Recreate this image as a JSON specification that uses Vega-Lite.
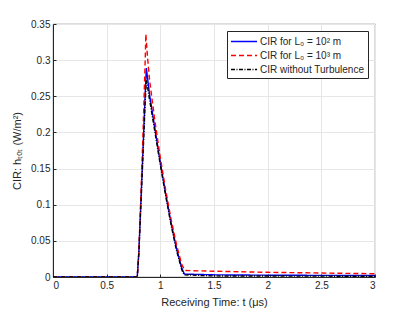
{
  "$schema": "https://vega.github.io/schema/vega-lite/v6.json",
  "width": 322,
  "height": 253,
  "autosize": {"type": "none"},
  "padding": {"left": 53, "top": 24, "right": 40, "bottom": 35},
  "background": "white",
  "config": {
    "font": "Liberation Sans",
    "view": {"stroke": "#262626", "strokeWidth": 0.8}
  },
  "data": {
    "values": [
      {"s": "CIR for L₀ = 10² m", "t": 0, "v": 0},
      {"s": "CIR for L₀ = 10² m", "t": 0.785, "v": 0},
      {"s": "CIR for L₀ = 10² m", "t": 0.8, "v": 0.035},
      {"s": "CIR for L₀ = 10² m", "t": 0.82, "v": 0.108},
      {"s": "CIR for L₀ = 10² m", "t": 0.84, "v": 0.182},
      {"s": "CIR for L₀ = 10² m", "t": 0.86, "v": 0.258},
      {"s": "CIR for L₀ = 10² m", "t": 0.87, "v": 0.289},
      {"s": "CIR for L₀ = 10² m", "t": 0.88, "v": 0.276},
      {"s": "CIR for L₀ = 10² m", "t": 0.9, "v": 0.252},
      {"s": "CIR for L₀ = 10² m", "t": 0.95, "v": 0.205},
      {"s": "CIR for L₀ = 10² m", "t": 1.0, "v": 0.158},
      {"s": "CIR for L₀ = 10² m", "t": 1.05, "v": 0.115},
      {"s": "CIR for L₀ = 10² m", "t": 1.1, "v": 0.075},
      {"s": "CIR for L₀ = 10² m", "t": 1.15, "v": 0.04},
      {"s": "CIR for L₀ = 10² m", "t": 1.2, "v": 0.012},
      {"s": "CIR for L₀ = 10² m", "t": 1.225, "v": 0.004},
      {"s": "CIR for L₀ = 10² m", "t": 1.5, "v": 0.003},
      {"s": "CIR for L₀ = 10² m", "t": 2, "v": 0.0025},
      {"s": "CIR for L₀ = 10² m", "t": 3, "v": 0.002},
      {"s": "CIR for L₀ = 10³ m", "t": 0, "v": 0},
      {"s": "CIR for L₀ = 10³ m", "t": 0.785, "v": 0},
      {"s": "CIR for L₀ = 10³ m", "t": 0.8, "v": 0.036},
      {"s": "CIR for L₀ = 10³ m", "t": 0.82, "v": 0.118},
      {"s": "CIR for L₀ = 10³ m", "t": 0.84, "v": 0.205},
      {"s": "CIR for L₀ = 10³ m", "t": 0.86, "v": 0.305},
      {"s": "CIR for L₀ = 10³ m", "t": 0.865, "v": 0.336},
      {"s": "CIR for L₀ = 10³ m", "t": 0.88, "v": 0.305},
      {"s": "CIR for L₀ = 10³ m", "t": 0.9, "v": 0.272},
      {"s": "CIR for L₀ = 10³ m", "t": 0.95, "v": 0.215},
      {"s": "CIR for L₀ = 10³ m", "t": 1.0, "v": 0.165},
      {"s": "CIR for L₀ = 10³ m", "t": 1.05, "v": 0.12},
      {"s": "CIR for L₀ = 10³ m", "t": 1.1, "v": 0.08},
      {"s": "CIR for L₀ = 10³ m", "t": 1.15, "v": 0.045},
      {"s": "CIR for L₀ = 10³ m", "t": 1.2, "v": 0.017},
      {"s": "CIR for L₀ = 10³ m", "t": 1.23, "v": 0.009},
      {"s": "CIR for L₀ = 10³ m", "t": 1.5, "v": 0.008},
      {"s": "CIR for L₀ = 10³ m", "t": 2, "v": 0.0065},
      {"s": "CIR for L₀ = 10³ m", "t": 2.5, "v": 0.0055},
      {"s": "CIR for L₀ = 10³ m", "t": 3, "v": 0.0045},
      {"s": "CIR without Turbulence", "t": 0, "v": 0},
      {"s": "CIR without Turbulence", "t": 0.785, "v": 0},
      {"s": "CIR without Turbulence", "t": 0.8, "v": 0.033},
      {"s": "CIR without Turbulence", "t": 0.82, "v": 0.103},
      {"s": "CIR without Turbulence", "t": 0.84, "v": 0.173},
      {"s": "CIR without Turbulence", "t": 0.86, "v": 0.245},
      {"s": "CIR without Turbulence", "t": 0.87, "v": 0.272},
      {"s": "CIR without Turbulence", "t": 0.88, "v": 0.264},
      {"s": "CIR without Turbulence", "t": 0.9, "v": 0.245},
      {"s": "CIR without Turbulence", "t": 0.95, "v": 0.2},
      {"s": "CIR without Turbulence", "t": 1.0, "v": 0.155},
      {"s": "CIR without Turbulence", "t": 1.05, "v": 0.112},
      {"s": "CIR without Turbulence", "t": 1.1, "v": 0.072},
      {"s": "CIR without Turbulence", "t": 1.15, "v": 0.037},
      {"s": "CIR without Turbulence", "t": 1.2, "v": 0.01},
      {"s": "CIR without Turbulence", "t": 1.22, "v": 0.003},
      {"s": "CIR without Turbulence", "t": 1.5, "v": 0.0015},
      {"s": "CIR without Turbulence", "t": 3, "v": 0.001}
    ]
  },
  "mark": {"type": "line", "strokeWidth": 1.4, "clip": true},
  "encoding": {
    "x": {
      "field": "t", "type": "quantitative",
      "scale": {"domain": [0, 3], "nice": false, "zero": false},
      "axis": {
        "title": "Receiving Time: t (μs)",
        "values": [0, 0.5, 1, 1.5, 2, 2.5, 3],
        "format": "~f",
        "labelFontSize": 10, "labelColor": "#262626",
        "titleFontSize": 11, "titleFontWeight": "normal", "titleColor": "#262626",
        "titlePadding": 6,
        "domainColor": "#262626", "tickColor": "#262626",
        "tickSize": -3, "labelPadding": 6,
        "gridColor": "#e6e6e6", "grid": true
      }
    },
    "y": {
      "field": "v", "type": "quantitative",
      "scale": {"domain": [0, 0.35], "nice": false},
      "axis": {
        "title": "CIR: hₜₒₜ (W/m²)",
        "values": [0, 0.05, 0.1, 0.15, 0.2, 0.25, 0.3, 0.35],
        "format": "~f",
        "labelFontSize": 10, "labelColor": "#262626",
        "titleFontSize": 11, "titleFontWeight": "normal", "titleColor": "#262626",
        "titlePadding": 8,
        "domainColor": "#262626", "tickColor": "#262626",
        "tickSize": -3, "labelPadding": 6,
        "gridColor": "#e6e6e6", "grid": true
      }
    },
    "color": {
      "field": "s", "type": "nominal",
      "scale": {"domain": ["CIR for L₀ = 10² m", "CIR for L₀ = 10³ m", "CIR without Turbulence"], "range": ["#0000ff", "#ff0000", "#000000"]},
      "legend": {
        "title": null, "orient": "top-right", "offset": 7,
        "fillColor": "white", "strokeColor": "#262626",
        "padding": 3, "symbolType": "M-1,0L3,0", "symbolSize": 170, "symbolStrokeWidth": 1.5,
        "labelFontSize": 10, "labelColor": "#262626", "rowPadding": 1, "labelOffset": 15
      }
    },
    "strokeDash": {
      "field": "s", "type": "nominal",
      "scale": {"domain": ["CIR for L₀ = 10² m", "CIR for L₀ = 10³ m", "CIR without Turbulence"], "range": [[1, 0], [5, 3], [4, 1.5, 1, 1.5]]},
      "legend": null
    }
  }
}
